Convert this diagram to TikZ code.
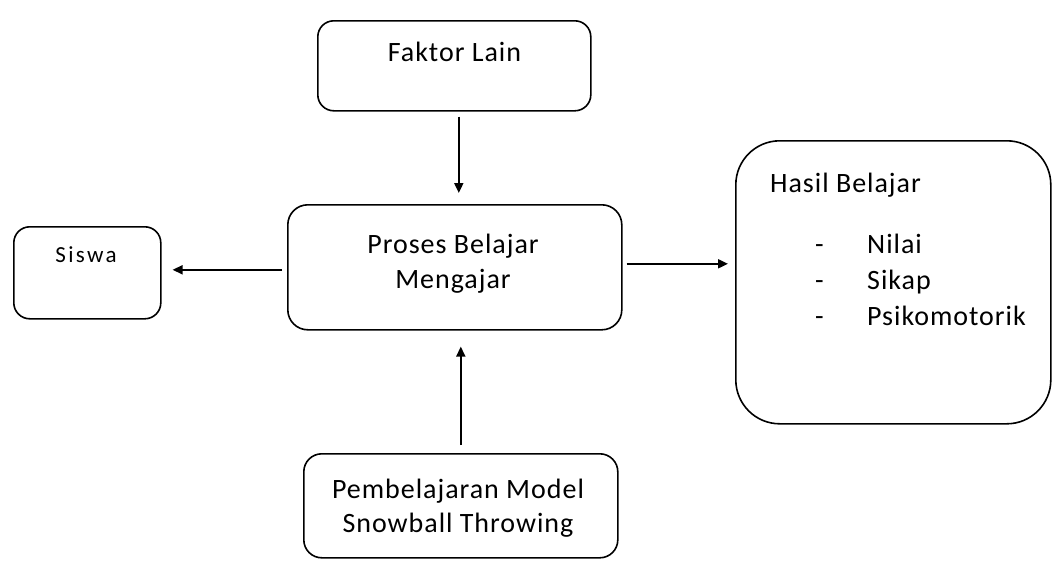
\documentclass[tikz,border=0pt]{standalone}
\usepackage{fontspec}
\setmainfont{Carlito}[LetterSpace=3.5]
\newfontfamily\smallspaced{Carlito}[LetterSpace=10]
\usetikzlibrary{arrows.meta,calc}
\begin{document}
\begin{tikzpicture}[x=1pt,y=-1pt,
  box/.style={draw, line width=1.6pt, rounded corners=#1, inner sep=0pt},
  box/.default=16pt,
  txt/.style={inner sep=0pt, font=\fontsize{28}{35}\selectfont},
  arr/.style={line width=1.9pt, -{Triangle[length=10pt,width=9pt]}}]
\useasboundingbox (0,0) rectangle (1052,560);
% boxes
\node[box=16pt, anchor=north west, minimum width=273pt, minimum height=90pt] (faktor) at (317,20) {};
\node[box=20pt, anchor=north west, minimum width=334pt, minimum height=125pt] (proses) at (287,204) {};
\node[box=16pt, anchor=north west, minimum width=147pt, minimum height=92pt] (siswa) at (13,226) {};
\node[box=44pt, anchor=north west, minimum width=315pt, minimum height=283pt] (hasil) at (735,140) {};
\node[box=18pt, anchor=north west, minimum width=314pt, minimum height=104pt] (bottom) at (303,453) {};
% texts
\node[txt, anchor=base] (tfaktor) at (454.5,61) {Faktor Lain};
\node[txt, anchor=base] (tproses1) at (453,253) {Proses Belajar};
\node[txt, anchor=base] (tproses2) at (453,288) {Mengajar};
\node[inner sep=0pt, anchor=base, font=\smallspaced\fontsize{23}{27}\selectfont] (tsiswa) at (86,262.5) {Siswa};
\node[txt, anchor=base west] (thasil) at (770,192) {Hasil Belajar};
\node[txt, anchor=base west] (d1) at (815,253) {-};
\node[txt, anchor=base west] (d2) at (815,289) {-};
\node[txt, anchor=base west] (d3) at (815,325) {-};
\node[txt, anchor=base west] (i1) at (867,253) {Nilai};
\node[txt, anchor=base west] (i2) at (867,289) {Sikap};
\node[txt, anchor=base west] (i3) at (867,325) {Psikomotorik};
\node[txt, anchor=base] (tb1) at (458,498) {Pembelajaran Model};
\node[txt, anchor=base] (tb2) at (458,532) {Snowball Throwing};
% connectors
\draw[arr] ($(faktor.south)+(4.5,5)$) -- ($(proses.north -| faktor.south)+(4.5,-11)$);
\draw[arr] ($(proses.west)+(-5,2.5)$) -- ($(proses.west -| siswa.east)+(11,2.5)$);
\draw[arr] ($(proses.east)+(4,-3.5)$) -- ($(proses.east -| hasil.west)+(-7,-3.5)$);
\draw[arr] ($(bottom.north)+(0,-8)$) -- ($(proses.south -| bottom.north)+(0,16)$);
\end{tikzpicture}
\end{document}
